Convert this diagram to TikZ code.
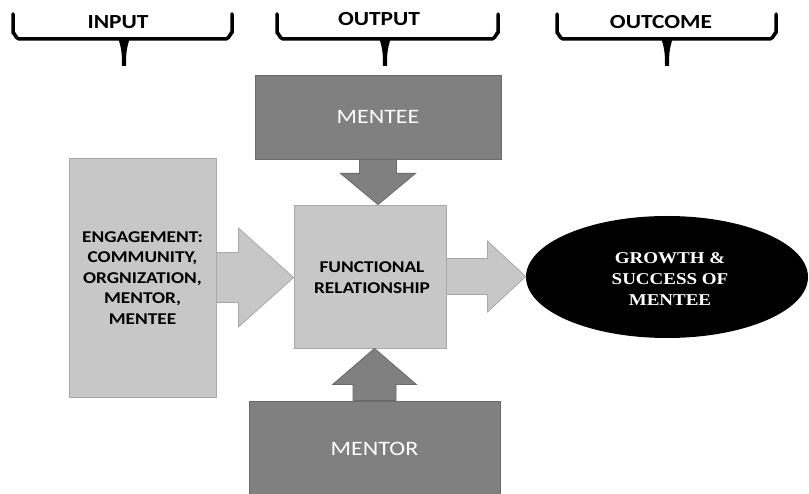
\documentclass[tikz,border=0pt]{standalone}
\usepackage{fontspec}
\usetikzlibrary{shapes.geometric}
\setmainfont[FakeStretch=1.17]{Carlito}
\newfontfamily\timesbold[FakeStretch=1.15]{Liberation Serif}
\definecolor{boxdark}{gray}{0.50}
\definecolor{edgedark}{gray}{0.42}
\definecolor{boxlight}{gray}{0.78}
\definecolor{edgelight}{gray}{0.66}
\tikzset{
    darkbox/.style={fill=boxdark,draw=edgedark,line width=0.8pt},
    lightbox/.style={fill=boxlight,draw=edgelight,line width=0.8pt},
    bracelabel/.style={font=\fontsize{20}{22}\selectfont\bfseries},
    bracepath/.style={line width=3.5pt,line cap=round,line join=round}
}
\begin{document}
\begin{tikzpicture}[x=1pt,y=-1pt]
        \useasboundingbox[fill=white] (0,0) rectangle (809,494);
        % braces and headings
        \foreach \l/\r/\t/\ty/\name/\txt in {13/232/124/22/lblinput/INPUT,277/498/385/19/lbloutput/OUTPUT,557/776/667/22/lbloutcome/OUTCOME}{
            \draw[bracepath] (\l,14) -- (\l,33) to[out=90,in=180] (\l+6,39) -- (\r-6,39) to[out=0,in=90] (\r,33) -- (\r,14);
            \fill (\t-6,38) to[out=-70,in=90] (\t-2,66) -- (\t+2,66) to[out=90,in=-110] (\t+6,38) -- cycle;
            \node[bracelabel] (\name) at (\t-6,\ty) {\txt};
        }
        % boxes
        \node[darkbox,minimum width=246pt,minimum height=84pt,inner sep=0pt] (mentee) at (378,117) {};
        \node[lightbox,minimum width=147pt,minimum height=239pt,inner sep=0pt] (engage) at (142.5,277.5) {};
        \node[lightbox,minimum width=152pt,minimum height=143pt,inner sep=0pt] (func) at (370,276.5) {};
        \node[darkbox,minimum width=251pt,minimum height=96pt,inner sep=0pt] (mentor) at (374.5,449) {};
        \node[ellipse,fill=black,minimum width=282pt,minimum height=122pt,inner sep=0pt] (growth) at (667,277) {};
        % block arrows
        \draw[darkbox] ([xshift=-18.5pt]mentee.south) -- ++(0,14) -- ++(-19,0) -- (mentee.south |- func.north)
            -- ([shift={(37.5,14)}]mentee.south) -- ++(-19,0) -- ++(0,-14) -- cycle;
        \draw[darkbox] ([xshift=-21.5pt]mentor.north) -- ++(0,-16) -- ++(-20.5,0) -- (mentor.north |- func.south)
            -- ([shift={(42,-16)}]mentor.north) -- ++(-20.5,0) -- ++(0,16) -- cycle;
        \draw[lightbox] ([yshift=25pt]engage.east) -- ++(22,0) -- ++(0,-24.5) -- (func.west |- engage.east)
            -- ([shift={(22,49.5)}]engage.east) -- ++(0,-24.5) -- ++(-22,0) -- cycle;
        \draw[lightbox] ([yshift=18pt]func.east) -- ++(41,0) -- ++(0,-17.5) -- (growth.west |- func.east)
            -- ([shift={(41,35.5)}]func.east) -- ++(0,-17.5) -- ++(-41,0) -- cycle;
        % texts
        \node[white,font=\fontsize{20.5}{22}\selectfont] (menteetxt) at (mentee.center) {MENTEE};
        \node[white,font=\fontsize{20.5}{22}\selectfont] (mentortxt) at (mentor.center) {MENTOR};
        \node[align=center,font=\fontsize{16.5}{20.5}\selectfont\bfseries] (engagetxt) at ([yshift=-0.5pt]engage.center)
            {ENGAGEMENT:\\COMMUNITY,\\ORGNIZATION,\\MENTOR,\\MENTEE};
        \node[align=center,font=\fontsize{16.5}{21}\selectfont\bfseries] (functxt) at ([xshift=2pt,yshift=-1pt]func.center)
            {FUNCTIONAL\\RELATIONSHIP};
        \node[white,align=center,font=\fontsize{16.5}{21}\timesbold\bfseries] (growthtxt) at ([xshift=3pt,yshift=-2pt]growth.center)
            {GROWTH \&\\SUCCESS OF\\MENTEE};
    \end{tikzpicture}
\end{document}
